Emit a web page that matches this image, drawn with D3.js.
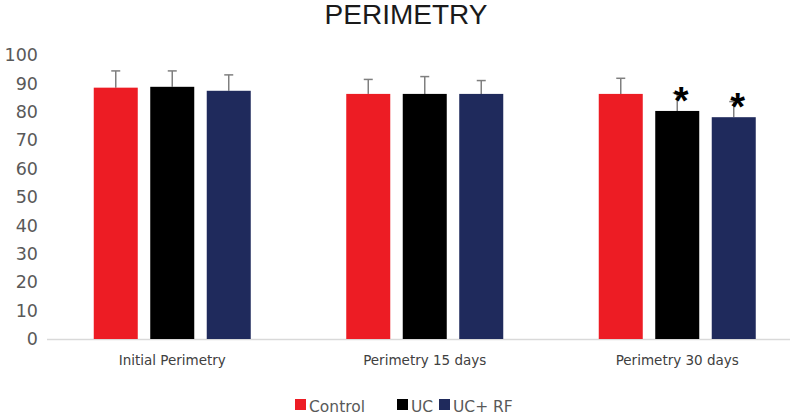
<!DOCTYPE html>
<html>
<head>
<meta charset="utf-8">
<script src="https://cdn.jsdelivr.net/npm/d3@7"></script>
<style>
  body { margin: 0; background: #fff; }
  svg { display: block; }
</style>
</head>
<body>
<div class="chart"></div>
<script>
// data
const groups = ['Initial Perimetry', 'Perimetry 15 days', 'Perimetry 30 days'];
const series = ['Control', 'UC', 'UC+ RF'];
const colors = ['#ed1c24', '#000000', '#1f2a5c'];
const control = [88.5, 86.3, 86.3];
const uc = [88.8, 86.3, 80.3];
const ucRf = [87.4, 86.3, 78.1];
const controlErr = [5.9, 5.1, 5.5];
const ucErr = [5.6, 6.1, 6.4];
const ucRfErr = [5.6, 4.7, 5.5];
const significant = [[false, false, false], [false, false, true], [false, false, true]];
const yTicks = [0, 10, 20, 30, 40, 50, 60, 70, 80, 90, 100];

const values = [control, uc, ucRf];
const errors = [controlErr, ucErr, ucRfErr];

const width = 792, height = 417;

const svg = d3.select('.chart').append('svg')
    .attr('width', width)
    .attr('height', height);

const x0 = d3.scaleBand()
  .domain(groups)
  .range([46, 803.5]);

const x1 = d3.scaleBand()
  .domain(series)
  .range([-78.5, 78.5])
  .paddingInner(0.221);

const y = d3.scaleLinear()
  .domain([0, 100])
  .range([339, 55]);

// title
svg.append('text')
    .attr('x', 406)
    .attr('y', 24)
    .attr('text-anchor', 'middle')
    .attr('font-family', 'Liberation Sans, Arial, sans-serif')
    .attr('font-size', 28)
    .attr('fill', '#1a1a1a')
    .text('PERIMETRY');

// y axis labels only
const yAxis = d3.axisLeft(y).tickValues(yTicks).tickSize(0).tickPadding(0);
const gY = svg.append('g')
    .attr('transform', 'translate(38, 0)')
    .call(yAxis);
gY.select('.domain').remove();
gY.selectAll('text')
    .attr('font-family', 'DejaVu Sans, sans-serif')
    .attr('font-size', 17.5)
    .attr('fill', '#595959');

// baseline / x axis
const xAxis = d3.axisBottom(x0).tickSize(0).tickPadding(16);
const gX = svg.append('g')
    .attr('transform', `translate(0, ${y(0)})`)
    .call(xAxis);
gX.select('.domain')
    .attr('d', 'M47,0.5H790')
    .attr('stroke', '#d9d9d9')
    .attr('stroke-width', 1.5);
gX.selectAll('text')
    .attr('font-family', 'DejaVu Sans, sans-serif')
    .attr('font-size', 13.5)
    .attr('fill', '#404040');

// bars
const rows = [];
groups.forEach((g, gi) => {
  series.forEach((s, si) => {
    rows.push({group: g, series: s, si: si, value: values[si][gi], err: errors[si][gi], sig: significant[si][gi]});
  });
});

const barG = svg.append('g');

// error bars (upper only)
const errG = barG.selectAll('.err')
  .data(rows)
  .enter().append('g')
    .attr('class', 'err')
    .attr('transform', d => `translate(${x0(d.group) + x0.bandwidth() / 2 + x1(d.series) + x1.bandwidth() / 2}, 0)`);
errG.append('line')
    .attr('x1', 0).attr('x2', 0)
    .attr('y1', d => y(d.value))
    .attr('y2', d => y(d.value + d.err))
    .attr('stroke', '#7f7f7f')
    .attr('stroke-width', 1.5);
errG.append('line')
    .attr('x1', -4.5).attr('x2', 4.5)
    .attr('y1', d => y(d.value + d.err))
    .attr('y2', d => y(d.value + d.err))
    .attr('stroke', '#7f7f7f')
    .attr('stroke-width', 1.5);

barG.selectAll('.bar')
  .data(rows)
  .enter().append('rect')
    .attr('class', 'bar')
    .attr('x', d => x0(d.group) + x0.bandwidth() / 2 + x1(d.series))
    .attr('width', x1.bandwidth())
    .attr('y', d => y(d.value))
    .attr('height', d => y(0) - y(d.value))
    .attr('fill', d => colors[d.si]);

// significance asterisks
barG.selectAll('.sig')
  .data(rows.filter(d => d.sig))
  .enter().append('text')
    .attr('class', 'sig')
    .attr('x', d => x0(d.group) + x0.bandwidth() / 2 + x1(d.series) + x1.bandwidth() / 2 + 4)
    .attr('y', d => y(d.value) + 3)
    .attr('text-anchor', 'middle')
    .attr('font-family', 'Liberation Sans, Arial, sans-serif')
    .attr('font-weight', 'bold')
    .attr('font-size', 38)
    .attr('fill', '#000')
    .text('*');

// legend
const legendX = [295, 397, 439];
const legend = svg.append('g')
  .selectAll('g')
  .data(series)
  .enter().append('g')
    .attr('transform', (d, i) => `translate(${legendX[i]}, 399)`);
legend.append('rect')
    .attr('width', 11)
    .attr('height', 11)
    .attr('fill', (d, i) => colors[i]);
legend.append('text')
    .attr('x', 14)
    .attr('y', 12.5)
    .attr('font-family', 'DejaVu Sans, sans-serif')
    .attr('font-size', 15.5)
    .attr('fill', '#595959')
    .text(d => d);
</script>
</body>
</html>
